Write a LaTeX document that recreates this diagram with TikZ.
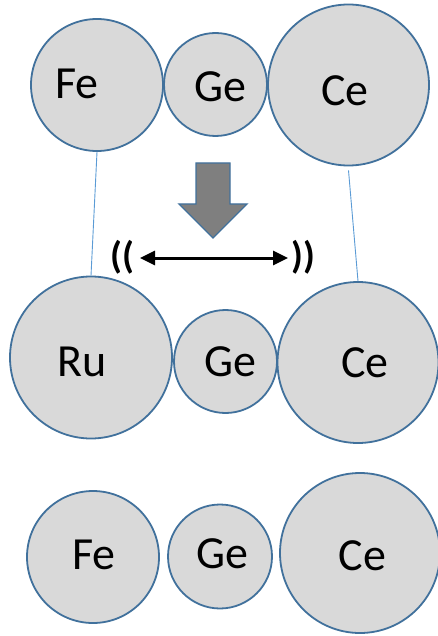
\documentclass[tikz,border=0pt]{standalone}
\usepackage{fontspec}
\setmainfont{Carlito}
\usetikzlibrary{arrows.meta}
\definecolor{atomfill}{HTML}{D9D9D9}
\definecolor{atomline}{HTML}{41719C}
\definecolor{guide}{HTML}{5B9BD5}
\definecolor{blockgray}{HTML}{7F7F7F}
\begin{document}
\begin{tikzpicture}[x=1pt,y=-1pt,
  atom/.style={circle,draw=atomline,fill=atomfill,line width=1.8pt,inner sep=0pt,minimum size=#1},
  sym/.style={font=\fontsize{46}{54}\selectfont,inner sep=0pt},
  paren/.style={font=\bfseries\fontsize{38}{42}\selectfont,inner sep=0pt},
  guideline/.style={draw=guide,line width=0.9pt}]
\useasboundingbox (0,0) rectangle (437,636);

% top row: Fe Ge Ce
\node[atom=132pt] (fe1) at (97,85) {};
\node[atom=103pt] (ge1) at (215.5,84.5) {};
\node[atom=161pt] (ce1) at (348.5,85) {};
\node[sym] (fe1t) at (77,84) {Fe};
\node[sym] (ge1t) at (220,87) {Ge};
\node[sym] (ce1t) at (345,91) {Ce};

% middle row: Ru Ge Ce
\node[atom=162pt] (ru2) at (91,357.5) {};
\node[atom=103pt] (ge2) at (225.5,361.5) {};
\node[atom=161pt] (ce2) at (358,362.5) {};
\node[sym] (ru2t) at (82,362) {Ru};
\node[sym] (ge2t) at (230,362) {Ge};
\node[sym] (ce2t) at (365,363) {Ce};

% bottom row: Fe Ge Ce
\node[atom=132pt] (fe3) at (93,557) {};
\node[atom=104pt] (ge3) at (220,556.5) {};
\node[atom=160pt] (ce3) at (360,553) {};
\node[sym] (fe3t) at (94,555) {Fe};
\node[sym] (ge3t) at (222.5,554) {Ge};
\node[sym] (ce3t) at (362.5,556) {Ce};

% thin guide lines between the rows
\draw[guideline] (fe1.south) -- (ru2.north);
\draw[guideline] ([yshift=-4pt]ce1.south) -- (ce2.north);

% block arrow pointing down
\coordinate (a1) at (196,163);
\coordinate (a2) at (230,163);
\coordinate (a3) at (230,204);
\coordinate (a4) at (247,204);
\coordinate (a5) at (213,238);
\coordinate (a6) at (179,204);
\coordinate (a7) at (196,204);
\filldraw[fill=blockgray,draw=atomline,line width=1.4pt,line join=miter]
  (a1) -- (a2) -- (a3) -- (a4) -- (a5) -- (a6) -- (a7) -- cycle;

% double-headed arrow with vibration marks
\coordinate (l) at (140,258);
\coordinate (r) at (288,258);
\draw[line width=3pt,{Triangle[length=15pt,width=14pt]}-{Triangle[length=15pt,width=14pt]}] (l) -- (r);
\node[paren] (pl) at (122,257) {((};
\node[paren] (pr) at (303,257) {))};
\end{tikzpicture}
\end{document}
